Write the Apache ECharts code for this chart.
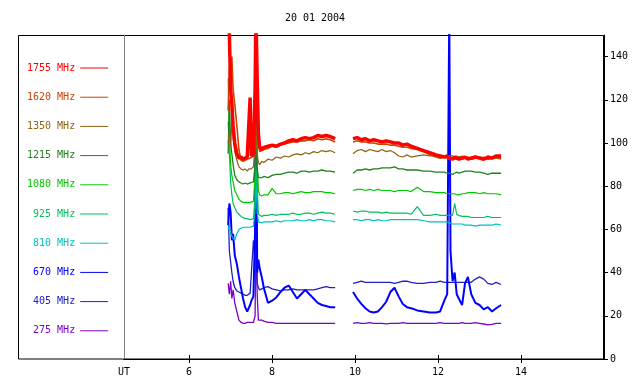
<!DOCTYPE html>
<html><head><meta charset="utf-8">
<script src="https://cdn.jsdelivr.net/npm/echarts@6/dist/echarts.min.js"></script>
<style>html,body{margin:0;padding:0;background:#fff}#c{width:640px;height:384px}</style>
</head><body><div id="c"></div>
<script>
const chartTitle = '20 01 2004';
const xTicks = [6, 8, 10, 12, 14];
const xLabelValues = [4.43, 6, 8, 10, 12, 14];
const yTicks = [0, 20, 40, 60, 80, 100, 120, 140];
const names = ['1755 MHz','1620 MHz','1350 MHz','1215 MHz','1080 MHz','925 MHz','810 MHz','670 MHz','405 MHz','275 MHz'];
const colors = ['#ff0000','#cc4400','#8c6414','#208020','#00c800','#00c060','#00c0c0','#0000ff','#2020c0','#8000c0'];

// segment 1 times (UT hours)
const t1 = [6.94,6.97,7.00,7.03,7.06,7.10,7.15,7.20,7.25,7.30,7.35,7.40,7.44,7.47,7.50,7.55,7.59,7.61,7.64,7.67,7.70,7.75,7.80,7.90,8.00,8.10,8.20,8.30,8.40,8.50,8.60,8.70,8.80,8.90,9.00,9.10,9.20,9.30,9.40,9.52];
// segment 2 times
const t2 = [9.95,10.05,10.15,10.25,10.35,10.45,10.55,10.65,10.75,10.85,10.95,11.05,11.15,11.25,11.35,11.5,11.65,11.8,11.95,12.05,12.15,12.22,12.27,12.3,12.35,12.4,12.45,12.5,12.58,12.65,12.72,12.8,12.9,13.0,13.1,13.2,13.3,13.4,13.52];

const f1755a = [160,150,125,118,108,100,95,93,93.5,92.5,93,93.5,94,121,94,95,125,160,130,104,98,97,98,98.5,99,98.5,99.5,100,101,101.5,101,102,102.5,102,102.5,103.5,103,103.5,103,102];
const f1755b = [102,102.5,101.5,102,101,101.5,101,100.5,101,100.5,100,100,99,99.5,98.5,97.5,96.5,95.5,94.5,94,93.5,94,93,93.5,92.5,93.5,93,92.5,93,93.5,92.5,93,93.5,93,92.5,93.5,93,94,94];
const f1620a = [115,135,128,140,125,118,108,97,92,91.5,92,92.5,93,93,93.5,94,110,150,115,100,96,96.5,97,97.5,98.5,98,99,99.5,100,100.5,100.5,101,101,101.5,101,102,101.5,102,101.5,100.5];
const f1620b = [100.5,101,100.5,100.5,100,100,99.5,99.5,99.5,99,99,98.5,98,98,97.5,97,96,94.5,93.5,93,93.5,93,92.5,93,93.5,92.5,93,93.5,92.5,93,93.5,92.5,93,93.5,93,92.5,93,93.5,93];
const f1350a = [100,105,98,110,102,96,92,89,88,87.5,88,87,88,88.5,88,89,100,112,95,91,90,91.5,91,92.5,92,93.5,93,94,93.5,94.5,95,94.5,95.5,95,96,95.5,96.5,96,96.5,95.5];
const f1350b = [95,96.5,97,96,97,96.5,96,97,96,96.5,95.5,94,93.5,94.5,93.5,94,94.5,94,94.5,94,93.5,94,94,93.5,94,93.5,94,93.5,94,93.5,93,93.5,94,93,93.5,92.5,93,93,92.5];
const f1215a = [95,120,100,95,90,85,83,82,81.5,81,81.5,81,81.5,81.5,82,82,90,100,88,84,83.5,84,84.5,84,85,85.5,85.5,86,86.5,86.5,86,87,87,86.5,87,87,87.5,87,87,86.5];
const f1215b = [86,87.5,87.5,88,87.5,88,88,88.5,88.5,88.5,89,88,88,87.5,87.5,87.5,87,87,86.5,86.5,86.5,86,86,86,85.5,86,86.5,86,86.5,87,87,87,86.5,86.5,86,85.5,86,86,86];
const f1080a = [130,105,90,85,82,78,76,74,73,72.5,72.5,72.5,73,72.5,73,73,85,105,90,78,76,75.5,76,76,79,76.5,76.5,77,77,76.5,77,77.5,77,77,77.5,77.5,77.5,77,77,76.5];
const f1080b = [78,78.5,78.5,78,78.5,78,78.5,78,78,78,77.5,78,78,78,77.5,79.5,77.5,77.5,77,77,77,76.5,76.5,76,76.5,76.5,76,76,76.5,76.5,77,77,77,76.5,77,76.5,76.5,76.5,76];
const f925a = [110,95,82,76,72,70,68,67,66,65.5,65,65,65,64.5,65,65,75,90,80,67,66.5,66,66.5,66.5,67,66.5,67,67,67,67.5,67,67,67.5,67.5,67,67.5,68,67.5,67.5,67];
const f925b = [68.5,68,68.5,68.5,68,68,68,67.5,68,67.5,67.5,67.5,67.5,67.5,67,70.5,66.5,66.5,67,66.5,66.5,66.5,66.5,66.5,66.5,72,67,66.5,66,66,66,65.5,65.5,65.5,65.5,66,65.5,65.5,65.5];
const f810a = [60,62,58,57,56,55,58,60,60.5,61,61,61,61,61,61.5,61.5,70,85,68,63.5,63,63,63.5,63.5,63.5,64,63.5,64,64,64,64.5,64,64,64.5,64,64.5,64.5,64,64,63.5];
const f810b = [64.5,64.5,64,64.5,64.5,64,64.5,64,64,64.5,64.5,64.5,64.5,64.5,64.5,64.5,64,63.5,63.5,63.5,63.5,63.5,63,63,62.5,62.5,62.5,62.5,62.5,62,62,62,61.5,62,62,62,62,62.5,62];
const f670a = [62,72,68,55,58,48,44,38,33,28,24,22,22.5,25,27,29,60,160,40,46,42,38,33,26,27,28.5,31,33,34,31,28,30,32,30,28,26,25,24.5,24,24];
const f670b = [31,28,25.5,23.5,22,21.5,22,24,26.5,31,33,29,25.5,24,23.5,22.5,22,21.5,21.5,22,27,30,160,50,36,40,30,28,25,35,38,30,26,25,23,24,22,23.5,25];
const f405a = [70,50,45,40,36,33,31.5,31,30.5,30,29.5,29.5,30,30.5,31,55,45,100,35,33,32,32.5,33,33.5,32.5,32,31.5,32,32,32.5,32,32,32,32,32,32.5,33,33.5,33,33];
const f405b = [35,35.5,36,35.5,35.5,35.5,35.5,35.5,35.5,35.5,35,35.5,36,36,35.5,35,35,35.5,35.5,36,35.5,35.5,35.5,35.5,35.5,35.5,35.5,35.5,35.5,35.5,35.5,35.5,37,38,37,35,34.5,35.5,34.5];
const f275a = [35,30,36,28,32,26,22,18,17,16.5,16.5,17,16.5,17,16.5,17,20,60,30,18,17.5,18,17.5,17,17,16.5,16.5,16.5,16.5,16.5,16.5,16.5,16.5,16.5,16.5,16.5,16.5,16.5,16.5,16.5];
const f275b = [16.5,16.8,16.5,16.5,16.8,16.5,16.5,16.5,16.3,16.5,16.5,16.5,16.8,16.5,16.5,16.5,16.5,16.5,16.5,16.8,16.5,16.5,16.5,16.5,16.5,16.5,16.5,16.5,16.8,16.5,16.5,16.5,16.8,16.5,16.2,15.8,16,16.5,16.5];

const segA = [f1755a,f1620a,f1350a,f1215a,f1080a,f925a,f810a,f670a,f405a,f275a];
const segB = [f1755b,f1620b,f1350b,f1215b,f1080b,f925b,f810b,f670b,f405b,f275b];
const widths = [3.5,1.6,1.2,1.3,1.2,1.2,1.2,2,1.3,1.3];

function build(a, b) {
  return t1.map((t, i) => [t, a[i]]).concat([[9.73, '-']], t2.map((t, i) => [t, b[i]]));
}

const font = 'DejaVu Sans Mono';
const series = [];
for (let k = names.length - 1; k >= 0; k--) {
  series.push({
    name: names[k], type: 'line', xAxisIndex: 0, yAxisIndex: 0,
    data: build(segA[k], segB[k]), showSymbol: false, symbol: 'none',
    color: colors[k], lineStyle: { color: colors[k], width: widths[k] },
    clip: true, connectNulls: false, animation: false
  });
}

const chart = echarts.init(document.getElementById('c'), null, { renderer: 'canvas' });
chart.setOption({
  animation: false,
  backgroundColor: '#fff',
  title: { text: chartTitle, left: 310, top: 8, textAlign: 'center',
    textStyle: { fontFamily: font, fontSize: 10, fontWeight: 'normal', color: '#000' } },
  grid: { left: 124, right: 36, top: 35, bottom: 25 },
  graphic: [{ type: 'rect', silent: true, z: 0,
    shape: { x: 18.5, y: 35.5, width: 585, height: 323.5 },
    style: { fill: null, stroke: '#000', lineWidth: 1 } }],
  legend: {
    left: 22, top: 58, orient: 'vertical', align: 'right',
    itemWidth: 28, itemHeight: 10, itemGap: 19.2,
    icon: 'path://M0,0 L28,0 L28,1 L0,1 Z',
    selectedMode: false,
    textStyle: { fontFamily: font, fontSize: 10, lineHeight: 10 },
    data: names.map((n, i) => ({ name: n, textStyle: { color: colors[i] } }))
  },
  xAxis: [
    { type: 'value', position: 'bottom', min: 4.43, max: 16,
      axisLine: { show: true, lineStyle: { color: '#000', width: 1 } },
      axisTick: { show: true, inside: true, length: 4, customValues: xTicks, lineStyle: { color: '#000' } },
      axisLabel: { show: true, customValues: xLabelValues, margin: 8,
        fontFamily: font, fontSize: 10, color: '#000',
        formatter: v => (v < 5 ? 'UT' : String(v)) },
      splitLine: { show: false } },
    { type: 'value', position: 'top', min: 4.43, max: 16,
      axisLine: { show: true, lineStyle: { color: '#000', width: 1 } },
      axisTick: { show: true, inside: true, length: 4, customValues: xTicks, lineStyle: { color: '#000' } },
      axisLabel: { show: false }, splitLine: { show: false } }
  ],
  yAxis: [
    { type: 'value', position: 'right', min: 0, max: 150,
      axisLine: { show: true, lineStyle: { color: '#000', width: 1 } },
      axisTick: { show: true, inside: false, length: 4, customValues: yTicks, lineStyle: { color: '#000' } },
      axisLabel: { show: true, customValues: yTicks, margin: 6, padding: [3, 0, 0, 0], fontFamily: font, fontSize: 10, color: '#000' },
      splitLine: { show: false } },
    { type: 'value', position: 'left', min: 0, max: 150,
      axisLine: { show: true, lineStyle: { color: '#808080', width: 1 } },
      axisTick: { show: false }, axisLabel: { show: false }, splitLine: { show: false } }
  ],
  series: series
});
</script>
</body></html>
